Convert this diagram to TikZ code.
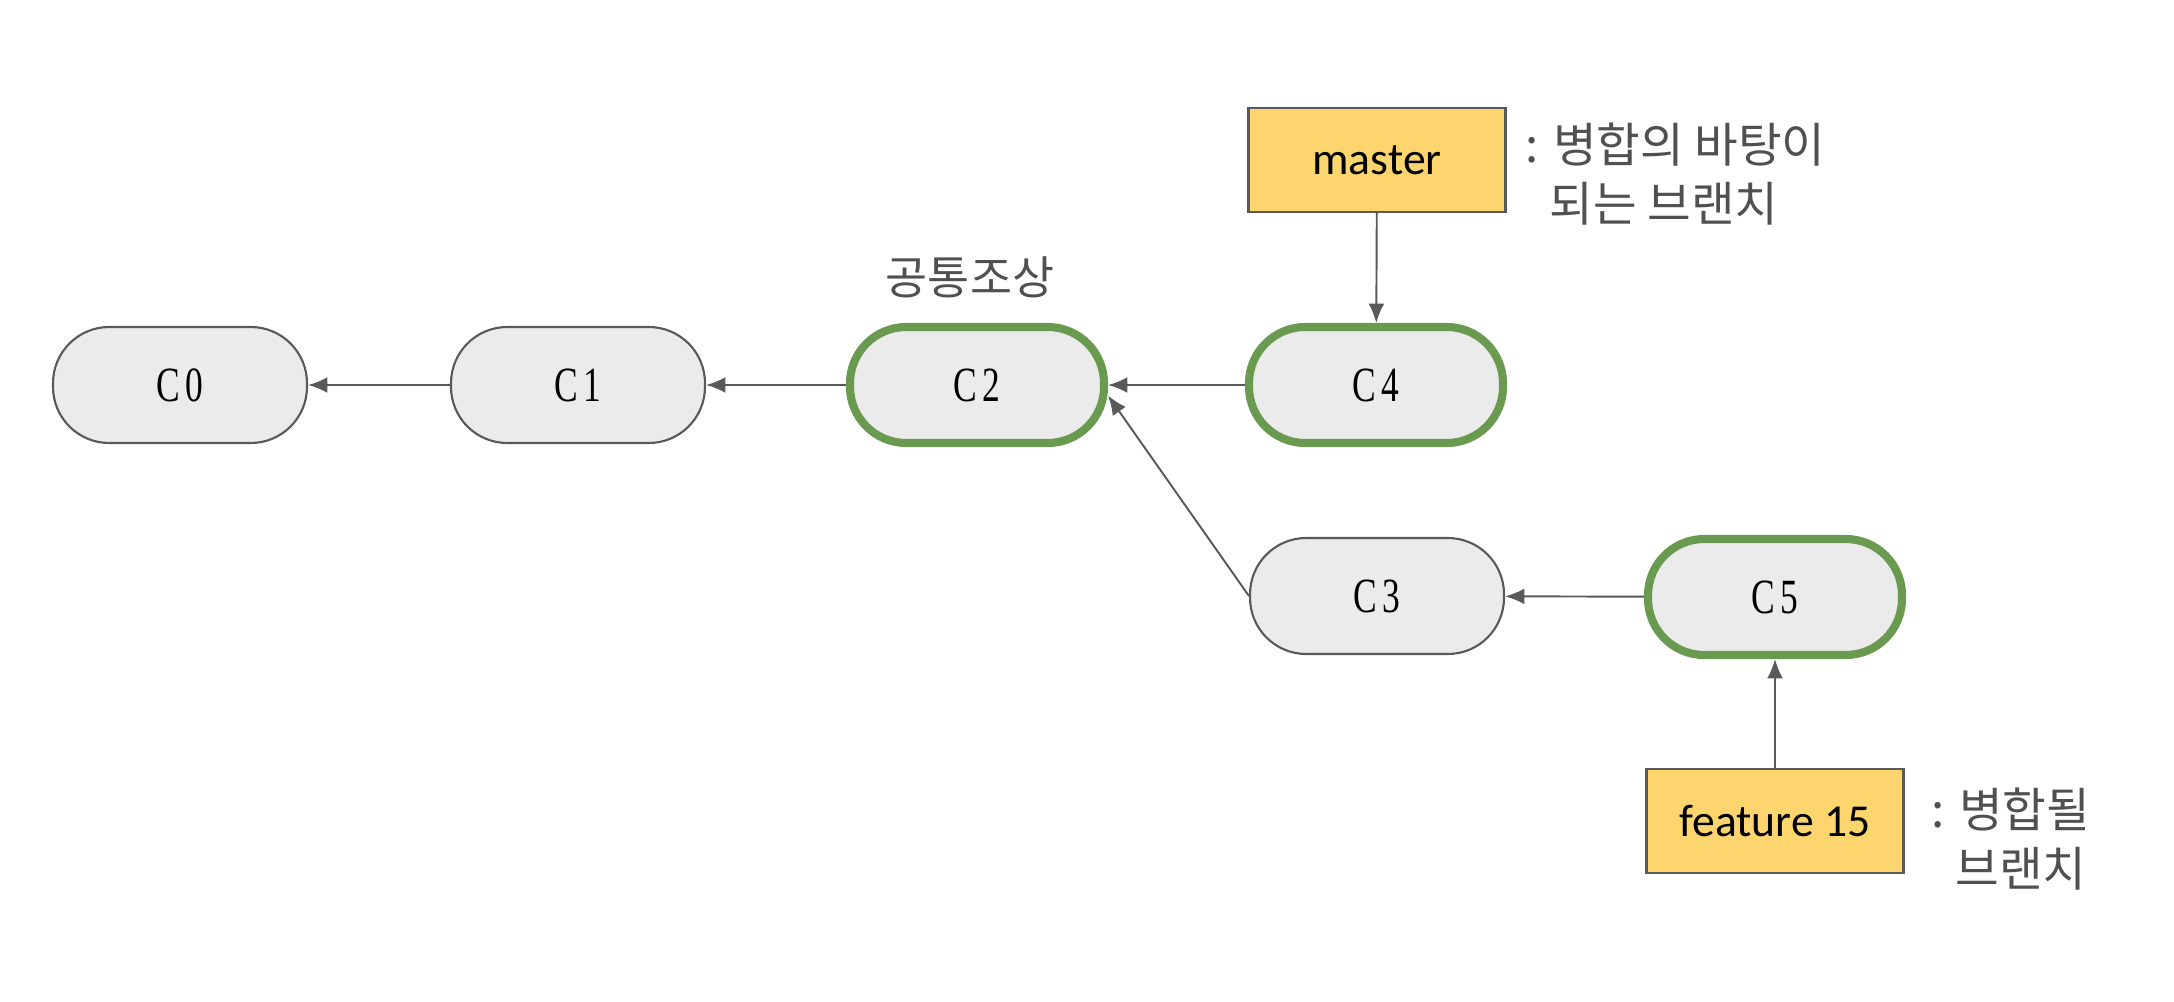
\documentclass[tikz,border=0pt]{standalone}
\usepackage{fontspec}
\setmainfont{Carlito}
\newfontfamily\kofont{Noto Sans CJK KR}
\newfontfamily\commitfont[FakeStretch=0.72,LetterSpace=12]{Liberation Serif}
\usetikzlibrary{positioning}
\usetikzlibrary{arrows.meta}
\definecolor{linegray}{HTML}{595959}
\definecolor{notegray}{HTML}{505050}
\definecolor{nodefill}{HTML}{EBEBEB}
\definecolor{mergegreen}{HTML}{6A9A4F}
\definecolor{branchyellow}{HTML}{FCD56E}
\tikzset{
    commit/.style = {rectangle, rounded corners=16pt, draw=linegray, line width=0.6pt, fill=nodefill, minimum width=2.54cm, minimum height=1.16cm, inner sep=0pt, font=\commitfont\fontsize{14}{16}\selectfont, text=black},
    commitg/.style = {commit, draw=mergegreen, line width=2.3pt},
    branch/.style = {rectangle, draw=linegray, line width=0.6pt, fill=branchyellow, minimum width=2.57cm, minimum height=1.04cm, inner sep=0pt, font=\fontsize{13}{15}\selectfont, text=black},
    note/.style = {align=left, inner sep=0pt, text=notegray, font=\kofont\fontsize{13.5}{17}\selectfont},
    edgea/.style = {-{Latex[length=5.5pt,width=4.5pt]}, line width=0.55pt, linegray}
}
\begin{document}
\begin{tikzpicture}
\useasboundingbox (0,0) rectangle (21.74,-10.02);
\node[commit] at (1.80,-3.85) (c0) {C0};
\node[commit] at (5.78,-3.85) (c1) {C1};
\node[commitg] at (9.77,-3.85) (c2) {C2};
\node[commitg] at (13.76,-3.85) (c4) {C4};
\node[commit] at (13.77,-5.96) (c3) {C3};
\node[commitg] at (17.75,-5.97) (c5) {C5};
%
\node[branch] at (13.77,-1.60) (master) {master};
\node[branch] at (17.75,-8.21) (feature) {feature 15};
%
\node[note, font=\kofont\fontsize{13}{17}\selectfont] at (9.70,-2.77) (ancestor) {공통조상};
\node[note, anchor=west] at (15.25,-1.74) (masternote) {: 병합의 바탕이\\\hphantom{:~}되는 브랜치};
\node[note, anchor=west] at (19.31,-8.39) (featurenote) {: 병합될\\\hphantom{:~}브랜치};
%
\draw[edgea] (c1) -- (c0);
\draw[edgea] (c2) -- (c1);
\draw[edgea] (c4) -- (c2);
\draw[edgea] (c3.west) -- ([yshift=-3pt]c2.east);
\draw[edgea] (c5) -- (c3);
\draw[edgea] (master) -- (c4);
\draw[edgea] (feature) -- (c5);
\end{tikzpicture}
\end{document}
